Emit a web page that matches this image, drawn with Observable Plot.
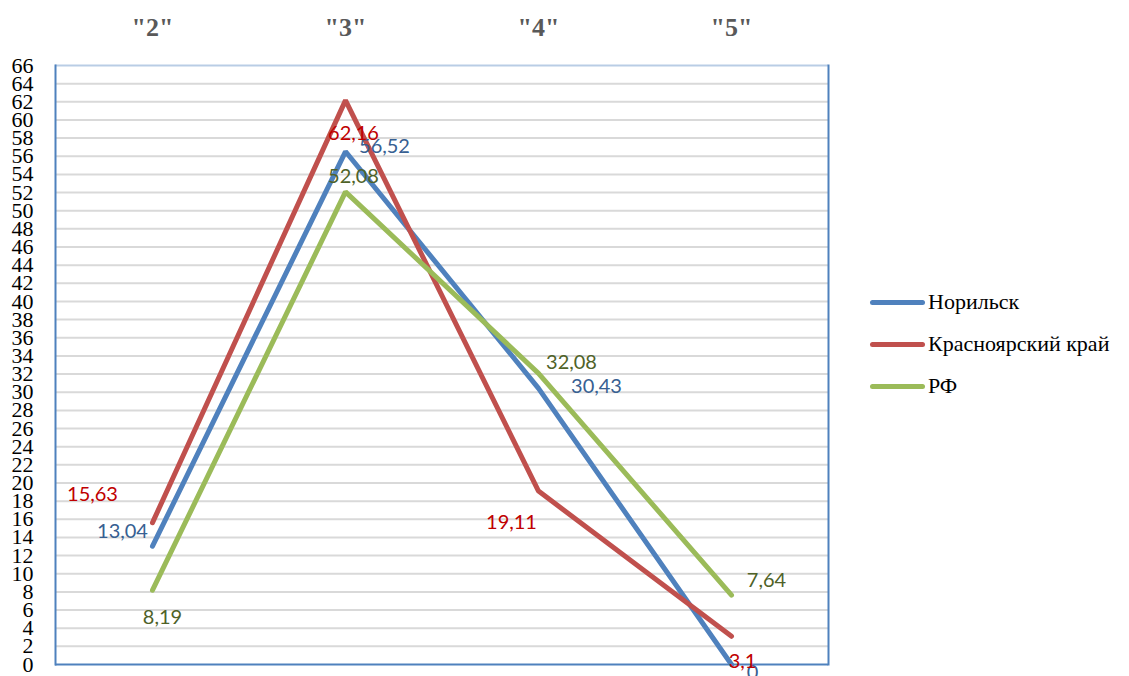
<!DOCTYPE html>
<html><head><meta charset="utf-8">
<script src="https://cdn.jsdelivr.net/npm/d3@7"></script>
<script src="https://cdn.jsdelivr.net/npm/@observablehq/plot@0.6"></script>
<style>
body{margin:0;background:#fff;}
#wrap{position:relative;width:1129px;height:676px;overflow:hidden;}
#legend{position:absolute;left:870px;top:281px;font-family:"Liberation Serif","Tinos","DejaVu Serif","Noto Serif",serif;font-size:22px;color:#000;}
.li{display:flex;align-items:center;height:42px;}
.sw{width:55px;height:5px;border-radius:3px;margin-right:3px;}
</style></head><body>
<div id="wrap"><div id="chart"></div><div id="legend"></div></div>
<script>
const categories = ['"2"', '"3"', '"4"', '"5"'];
const seriesNames = ["Норильск", "Красноярский край", "РФ"];
const norilsk = [13.04, 56.52, 30.43, 0];
const krasnoyarsk = [15.63, 62.16, 19.11, 3.1];
const rf = [8.19, 52.08, 32.08, 7.64];
const yTicks = d3.range(0, 67, 2);

const colors = ["#4f81bd", "#c0504d", "#9bbb59"];
const labelColors = ["#376092", "#c00000", "#4f6228"];
const serif = "'Liberation Serif', Tinos, 'DejaVu Serif', 'Noto Serif', serif";
// label offsets [dx, dy] per series per category (layout only)
const labelOffsets = [
  [[-30,-15],[39,-5],[58,-2],[21,8]],
  [[-60,-28],[8,33],[-27,32],[11,25]],
  [[10,27],[8,-15],[33,-11],[35,-15]]
];

const allSeries = [norilsk, krasnoyarsk, rf];
const rows = [];
allSeries.forEach((vals, si) => vals.forEach((v, ci) => rows.push({series: seriesNames[si], si, ci, cat: categories[ci], value: v})));

const fmt = v => String(v).replace(".", ",");

const labelMarks = rows.map(r => Plot.text([r], {
  x: "cat", y: "value", text: d => fmt(d.value),
  dx: labelOffsets[r.si][r.ci][0], dy: labelOffsets[r.si][r.ci][1],
  fill: labelColors[r.si], fontSize: 20, fontFamily: "Lato, 'Open Sans', sans-serif"
}));

const plot = Plot.plot({
  width: 860, height: 676,
  marginLeft: 55, marginRight: 32, marginTop: 65, marginBottom: 12,
  x: {type: "point", domain: categories, padding: 0.5, axis: null},
  y: {domain: [0, 66], axis: null},
  style: {background: "transparent", overflow: "visible", fontFamily: serif},
  marks: [
    Plot.ruleY(yTicks.filter(t => t > 0 && t < 66), {stroke: "#d9d9d9", strokeWidth: 2}),
    Plot.ruleY([66], {stroke: "#b9cde5", strokeWidth: 2}),
    Plot.ruleY([0], {stroke: "#4f81bd", strokeWidth: 2}),
    Plot.frame({stroke: "#4f81bd", strokeWidth: 2, anchor: "left"}),
    Plot.frame({stroke: "#4f81bd", strokeWidth: 2, anchor: "right"}),
    Plot.axisX({anchor: "top", tickSize: 0, tickPadding: 30, fontSize: 26, fontWeight: "bold",
      fontFamily: serif, color: "#595959", label: null}),
    Plot.axisY({ticks: yTicks, tickSize: 0, tickPadding: 22, fontSize: 22,
      fontFamily: serif, color: "#000", label: null}),
    Plot.line(rows, {x: "cat", y: "value", z: "series", stroke: d => colors[d.si], strokeWidth: 5, strokeLinejoin: "miter"}),
    ...labelMarks
  ]
});
document.getElementById("chart").appendChild(plot);

const legend = document.getElementById("legend");
seriesNames.forEach((n, i) => {
  const d = document.createElement("div"); d.className = "li";
  d.innerHTML = `<div class="sw" style="background:${colors[i]}"></div><span>${n}</span>`;
  legend.appendChild(d);
});
</script></body></html>
